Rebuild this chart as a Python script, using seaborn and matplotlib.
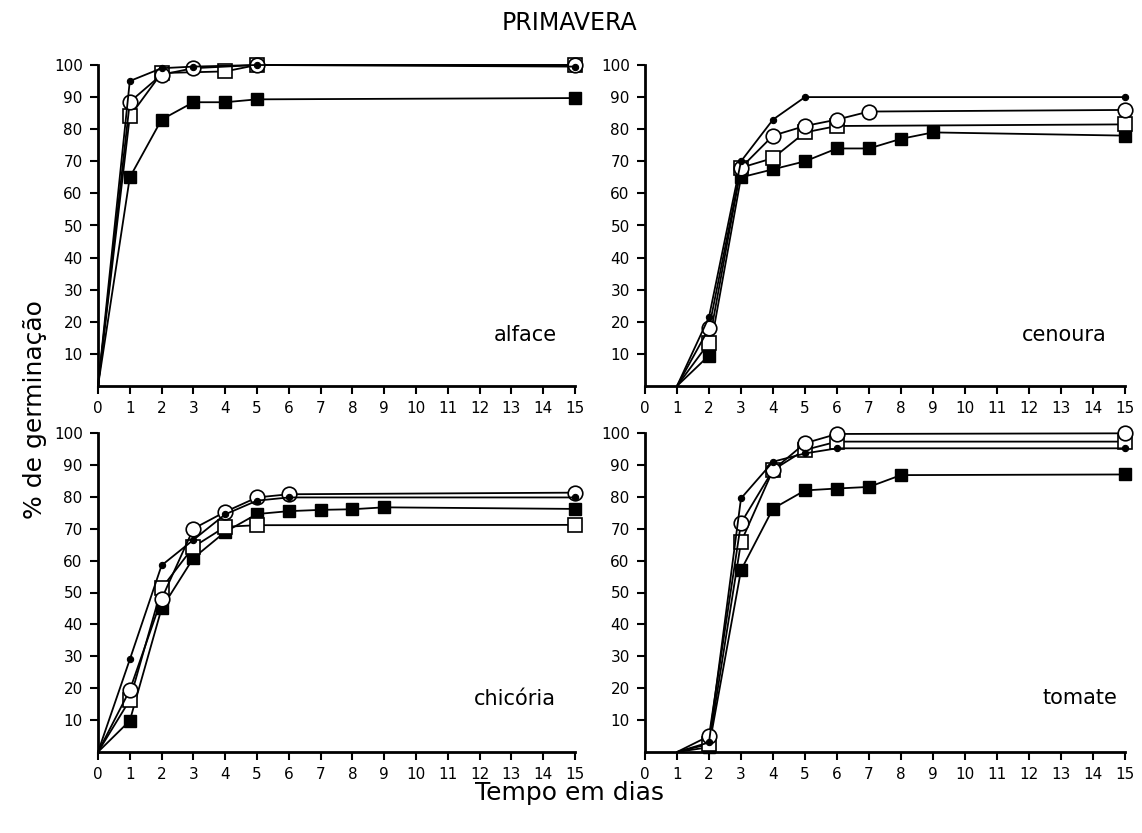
import matplotlib
matplotlib.use("Agg")
import matplotlib.pyplot as plt
import seaborn as sns
import pandas as pd

# ---- data ----
panels = ["alface", "cenoura", "chicória", "tomate"]
series = ["filled_square", "open_square", "open_circle", "small_dot"]

alface_dot_days = [0, 1, 2, 3, 5, 15]
alface_dot_vals = [0, 95, 99, 99.5, 100, 99.5]
alface_circle_days = [0, 1, 2, 3, 5, 15]
alface_circle_vals = [0, 88.5, 97, 99, 100, 100]
alface_osq_days = [0, 1, 2, 4, 5, 15]
alface_osq_vals = [0, 84, 97.5, 98, 100, 100]
alface_fsq_days = [0, 1, 2, 3, 4, 5, 15]
alface_fsq_vals = [0, 65, 83, 88.4, 88.4, 89.3, 89.7]

cenoura_dot_days = [1, 2, 3, 4, 5, 15]
cenoura_dot_vals = [0, 21.5, 70, 83, 90, 90]
cenoura_circle_days = [1, 2, 3, 4, 5, 6, 7, 15]
cenoura_circle_vals = [0, 18, 68, 78, 81, 83, 85.5, 86]
cenoura_osq_days = [1, 2, 3, 4, 5, 6, 15]
cenoura_osq_vals = [0, 13.5, 68, 71, 79, 81, 81.5]
cenoura_fsq_days = [1, 2, 3, 4, 5, 6, 7, 8, 9, 15]
cenoura_fsq_vals = [0, 9.5, 65, 67.5, 70, 74, 74, 77, 79, 78]

chicoria_dot_days = [0, 1, 2, 3, 4, 5, 6, 15]
chicoria_dot_vals = [0, 29, 58.5, 66.5, 74.5, 78.8, 79.8, 79.8]
chicoria_circle_days = [0, 1, 2, 3, 4, 5, 6, 15]
chicoria_circle_vals = [0, 19.4, 48, 70, 75.3, 79.8, 80.8, 81.3]
chicoria_osq_days = [0, 1, 2, 3, 4, 5, 15]
chicoria_osq_vals = [0, 16.3, 51.3, 64.3, 70.6, 71.1, 71.2]
chicoria_fsq_days = [0, 1, 2, 3, 4, 5, 6, 7, 8, 9, 15]
chicoria_fsq_vals = [0, 9.8, 45, 60.8, 69, 74.6, 75.5, 75.9, 76.1, 76.7, 76.2]

tomate_dot_days = [1, 2, 3, 4, 5, 6, 15]
tomate_dot_vals = [0, 3, 79.5, 91, 93.6, 95.2, 95.2]
tomate_circle_days = [1, 2, 3, 4, 5, 6, 15]
tomate_circle_vals = [0, 5, 71.8, 88.4, 96.8, 99.7, 99.9]
tomate_osq_days = [1, 2, 3, 4, 5, 6, 15]
tomate_osq_vals = [0, 2.5, 65.8, 88.4, 94.7, 97.3, 97.3]
tomate_fsq_days = [1, 2, 3, 4, 5, 6, 7, 8, 15]
tomate_fsq_vals = [0, 1.5, 57, 76.3, 82, 82.6, 83.1, 86.8, 87]

x_ticks = list(range(0, 16))
y_ticks = [10, 20, 30, 40, 50, 60, 70, 80, 90, 100]

raw = {
    "alface": {"filled_square": (alface_fsq_days, alface_fsq_vals),
               "open_square": (alface_osq_days, alface_osq_vals),
               "open_circle": (alface_circle_days, alface_circle_vals),
               "small_dot": (alface_dot_days, alface_dot_vals)},
    "cenoura": {"filled_square": (cenoura_fsq_days, cenoura_fsq_vals),
                "open_square": (cenoura_osq_days, cenoura_osq_vals),
                "open_circle": (cenoura_circle_days, cenoura_circle_vals),
                "small_dot": (cenoura_dot_days, cenoura_dot_vals)},
    "chicória": {"filled_square": (chicoria_fsq_days, chicoria_fsq_vals),
                 "open_square": (chicoria_osq_days, chicoria_osq_vals),
                 "open_circle": (chicoria_circle_days, chicoria_circle_vals),
                 "small_dot": (chicoria_dot_days, chicoria_dot_vals)},
    "tomate": {"filled_square": (tomate_fsq_days, tomate_fsq_vals),
               "open_square": (tomate_osq_days, tomate_osq_vals),
               "open_circle": (tomate_circle_days, tomate_circle_vals),
               "small_dot": (tomate_dot_days, tomate_dot_vals)},
}

rows = []
for p in panels:
    for s in series:
        d, v = raw[p][s]
        for xi, yi in zip(d, v):
            rows.append({"panel": p, "series": s, "dia": xi, "pct": yi})
df = pd.DataFrame(rows)

# ---- styles ----
sns.set_style("ticks")
plt.rcParams["font.family"] = ["DejaVu Sans"]
plt.rcParams["text.color"] = "black"
plt.rcParams["xtick.color"] = "black"
plt.rcParams["ytick.color"] = "black"
plt.rcParams["axes.edgecolor"] = "black"

marker_style = {
    "filled_square": dict(marker="s", markersize=8.5, markerfacecolor="black",
                          markeredgecolor="black", markeredgewidth=1.0, zorder=3),
    "open_square": dict(marker="s", markersize=10.5, markerfacecolor="white",
                        markeredgecolor="black", markeredgewidth=1.2, zorder=4),
    "open_circle": dict(marker="o", markersize=10.5, markerfacecolor="white",
                        markeredgecolor="black", markeredgewidth=1.2, zorder=5),
    "small_dot": dict(marker="o", markersize=4.5, markerfacecolor="black",
                      markeredgecolor="black", markeredgewidth=0.8, zorder=6),
}

fig = plt.figure(figsize=(11.42, 8.33), dpi=100)

positions = {
    "alface": [98 / 1142, 1 - 386 / 833, 477 / 1142, 321 / 833],
    "cenoura": [645 / 1142, 1 - 386 / 833, 480 / 1142, 321 / 833],
    "chicória": [98 / 1142, 1 - 752 / 833, 477 / 1142, 319 / 833],
    "tomate": [645 / 1142, 1 - 752 / 833, 480 / 1142, 319 / 833],
}
label_pos = {
    "alface": (0.962, 0.16),
    "cenoura": (0.962, 0.16),
    "chicória": (0.96, 0.165),
    "tomate": (0.985, 0.17),
}

for p in panels:
    ax = fig.add_axes(positions[p])
    sub = df[df["panel"] == p]
    for s in series:
        ss = sub[sub["series"] == s]
        sns.lineplot(data=ss, x="dia", y="pct", ax=ax, color="black",
                     linewidth=1.3, clip_on=False, estimator=None,
                     markevery=slice(1, None), **marker_style[s])
    ax.set_xlim(0, 15)
    ax.set_ylim(0, 100)
    ax.set_xticks(x_ticks)
    ax.set_xticklabels([str(t) for t in x_ticks])
    ax.set_yticks(y_ticks)
    ax.set_yticklabels([str(t) for t in y_ticks])
    ax.tick_params(axis="both", direction="out", length=6, width=1.5,
                   labelsize=11, color="black", labelcolor="black", pad=5)
    for sp in ["top", "right"]:
        ax.spines[sp].set_visible(False)
    for sp in ["left", "bottom"]:
        ax.spines[sp].set_linewidth(2)
        ax.spines[sp].set_color("black")
    ax.set_xlabel("")
    ax.set_ylabel("")
    if ax.get_legend() is not None:
        ax.get_legend().remove()
    lx, ly = label_pos[p]
    ax.text(lx, ly, p, transform=ax.transAxes, ha="right", va="center",
            fontsize=15, color="black")

fig.text(0.499, 0.972, "PRIMAVERA", ha="center", va="center", fontsize=17,
         color="black")
fig.text(0.031, 0.508, "% de germinação", ha="center", va="center",
         rotation=90, fontsize=18, color="black")
fig.text(0.499, 0.048, "Tempo em dias", ha="center", va="center", fontsize=18,
         color="black")

fig.savefig("out.png", dpi=100, facecolor="white")
